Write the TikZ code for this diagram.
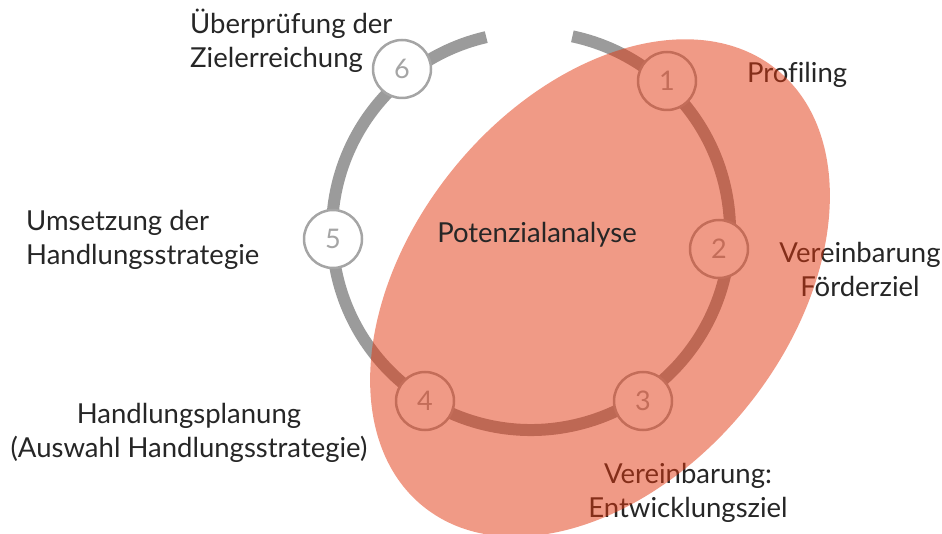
\documentclass[tikz,border=0pt]{standalone}
\usepackage{fontspec}
\setmainfont{Lato}[Ligatures={NoCommon}]
\usetikzlibrary{positioning}
\definecolor{ringgray}{RGB}{155,155,155}
\definecolor{stagegray}{RGB}{165,165,165}
\definecolor{txtgray}{RGB}{38,38,38}
\definecolor{salmon}{RGB}{226,54,14}

\begin{document}
\begin{tikzpicture}[x=1pt,y=-1pt,
    stage/.style={circle,draw=stagegray,line width=2.5pt,fill=white,minimum size=58pt,inner sep=0pt,text=stagegray,font=\fontsize{27}{27}\selectfont},
    lbl/.style={text=txtgray,font=\fontsize{27.5}{34}\selectfont,inner sep=0pt}]
        \useasboundingbox(0,0)rectangle(942,534);
        \coordinate(ctr)at(531,231);
        \draw[ringgray,line width=12pt](ctr)++(103:199pt)arc[start angle=103,end angle=438,radius=199pt];

        \node[stage](s1)at(667,81){1};
        \node[stage](s2)at(719,249){2};
        \node[stage](s3)at(643,401){3};
        \node[stage](s4)at(425,401){4};
        \node[stage](s5)at(333,239){5};
        \node[stage](s6)at(402,69){6};

        \node[lbl,anchor=base west,align=left](t6)at(190,68){Überprüfung der\\Zielerreichung};
        \node[lbl,anchor=base west,align=left](t5)at(26,265){Umsetzung der\\Handlungsstrategie};
        \node[lbl,anchor=base,align=center](t4)at(189,457){Handlungsplanung\\(Auswahl Handlungsstrategie)};
        \node[lbl,anchor=base west](t1)at(747,83){Profiling};
        \node[lbl,anchor=base,align=center](t2)at(860,297){Vereinbarung\\Förderziel};
        \node[lbl,anchor=base,align=center](t3)at(688,517){Vereinbarung:\\Entwicklungsziel};

        \fill[salmon,opacity=0.5,rotate around={51:(600,288)}](600,288)ellipse[x radius=281pt,y radius=189pt];
        \node[lbl,anchor=base](pa)at(537,243){Potenzialanalyse};
    \end{tikzpicture}
\end{document}
